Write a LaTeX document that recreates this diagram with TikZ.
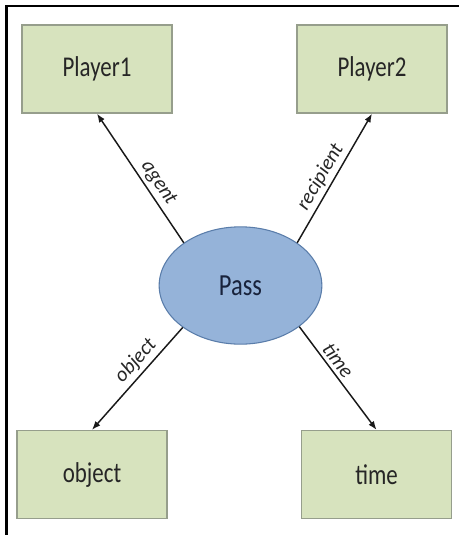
\documentclass[tikz,border=0pt]{standalone}
\usepackage{fontspec}
\setmainfont{Carlito}
\usetikzlibrary{shapes.geometric,arrows.meta}
\definecolor{boxfill}{RGB}{215,227,190}
\definecolor{boxline}{RGB}{150,158,140}
\definecolor{passfill}{RGB}{149,179,217}
\definecolor{passline}{RGB}{90,125,170}
\definecolor{passtext}{RGB}{25,35,60}
\newcommand{\narrow}[1]{\scalebox{0.8}[1]{#1}}
\tikzset{
  x=0.75pt, y=-0.75pt,
  rolebox/.style={draw=boxline, fill=boxfill, line width=1pt,
    minimum width=112.5pt, minimum height=66pt, inner sep=0pt,
    font=\fontsize{21.5}{24}\selectfont, text=black!85},
  event/.style={ellipse, draw=passline, fill=passfill, line width=0.8pt,
    minimum width=122pt, minimum height=88pt, inner sep=0pt,
    font=\fontsize{23}{26}\selectfont, text=passtext},
  rel/.style={-{Latex[length=6.5pt,width=5pt]}, line width=1.1pt, black!90},
  rellabel/.style={sloped, above, inner sep=2.5pt,
    font=\fontsize{15.5}{18}\selectfont\itshape, text=black!85}
}
\begin{document}
\begin{tikzpicture}
  \useasboundingbox (0,0) rectangle (459,535);
  % frame rules along the top and left edges
  \draw[line width=1.9pt] (6.5,535) -- (6.5,6) -- (459,6);

  \node[rolebox] (p1)   at (97,69)      {\narrow{Player1}};
  \node[rolebox] (p2)   at (372,69)     {\narrow{Player2}};
  \node[rolebox] (obj)  at (92,474.5)   {\narrow{object}};
  \node[rolebox] (time) at (376.5,474.5){\narrow{time}};
  \node[event]   (pass) at (240.5,285.5){\narrow{Pass}};

  \draw[rel] (pass.143)  -- node[rellabel, pos=0.41] {agent}     (p1.south);
  \draw[rel] (pass.37.6) -- node[rellabel, pos=0.46] {recipient} (p2.south);
  \draw[rel] (pass.-144) -- node[rellabel, pos=0.41] {object}    (obj.north);
  \draw[rel] (pass.-35.4)-- node[rellabel, pos=0.39] {time}      (time.north);
\end{tikzpicture}
\end{document}
